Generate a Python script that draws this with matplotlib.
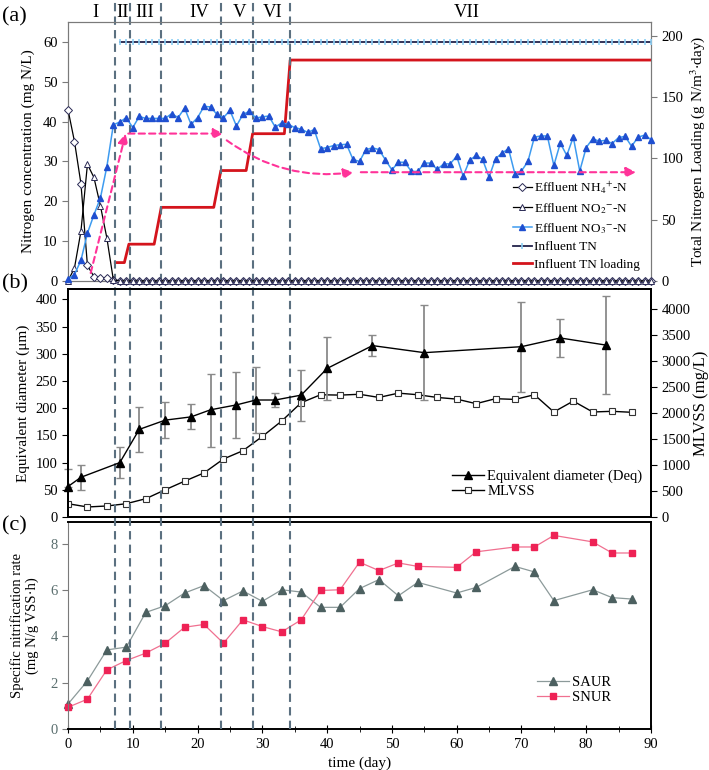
import numpy as np
import matplotlib
matplotlib.use("Agg")
import matplotlib.pyplot as plt
from matplotlib.lines import Line2D

plt.rcParams['font.family'] = ['Liberation Serif', 'DejaVu Serif']
plt.rcParams['mathtext.fontset'] = 'stix'

# ---------------- data ----------------
day_a = list(range(91))
nh4 = [43, 35, 24.4, 3.9, 1.1, 0.7, 0.7, 0.3] + [0] * 83
no2 = [0, 3.3, 12.5, 29.3, 26.0, 18.9, 10.8, 0.3] + [0] * 83
no3 = [0.5, 1.6, 5.2, 12.0, 16.6, 20.8, 28.7, 39.2, 39.9, 41.0,
       38.5, 41.3, 40.8, 40.8, 40.8, 40.8, 42.0, 41.0, 43.4, 39.3,
       41.0, 43.8, 43.7, 41.8, 41.0, 42.8, 38.9, 41.8, 42.6, 40.9,
       41.2, 41.4, 38.6, 39.7, 39.3, 38.5, 38.1, 37.3, 38.0, 33.2,
       33.5, 34.0, 34.2, 34.3, 30.5, 30.0, 33.0, 33.4, 33.0, 30.4,
       27.9, 29.8, 29.8, 27.5, 27.5, 29.6, 29.6, 28.0, 29.4, 29.4,
       31.3, 26.3, 30.3, 31.5, 30.5, 26.1, 30.7, 32.1, 33.2, 26.8,
       27.6, 30.0, 36.1, 36.4, 36.4, 29.0, 34.6, 31.5, 36.1, 27.6,
       33.5, 35.7, 35.1, 35.3, 34.5, 36.0, 36.3, 33.8, 36.1, 36.6,
       35.5]
influent_tn = [np.nan] * 8 + [60] * 83

load_day = [7.3, 8.7, 9.4, 13.3, 14.4, 22.5, 23.6, 27.5, 28.5, 33.4, 34.3, 90]
tn_loading = [15, 15, 30, 30, 60, 60, 90, 90, 120, 120, 180, 180]

phase_bounds = [7.2, 9.5, 14.4, 23.6, 28.6, 34.3]
phase_names = ['I', 'II', 'III', 'IV', 'V', 'VI', 'VII']
phase_pos = [4.2, 8.5, 11.8, 20.3, 26.5, 31.6, 61.6]

deq_day = [0, 2, 8, 11, 15, 19, 22, 26, 29, 32, 36, 40, 47, 55, 70, 76, 83]
deq = [56, 73, 100, 161, 178, 184, 197, 206, 215, 215, 224, 273, 315, 302, 313, 329, 316]
deq_err_low = [0, 23, 28, 42, 33, 23, 69, 60, 60, 13, 47, 58, 20, 87, 83, 35, 90]
deq_err_high = [33, 23, 28, 42, 33, 23, 66, 60, 60, 13, 47, 58, 20, 87, 83, 35, 90]

mlvss_day = [0, 3, 6, 9, 12, 15, 18, 21, 24, 27, 30, 33, 36, 39, 42, 45, 48, 51,
             54, 57, 60, 63, 66, 69, 72, 75, 78, 81, 84, 87]
mlvss = [256, 193, 212, 256, 352, 524, 690, 849, 1117, 1276, 1551, 1849, 2201,
         2354, 2347, 2363, 2302, 2385, 2354, 2302, 2270, 2182, 2278, 2264, 2354,
         2022, 2232, 2022, 2035, 2016]

rate_day = [0, 3, 6, 9, 12, 15, 18, 21, 24, 27, 30, 33, 36, 39, 42, 45, 48, 51,
            54, 60, 63, 69, 72, 75, 81, 84, 87]
saur = [1.08, 2.08, 3.42, 3.54, 5.04, 5.33, 5.88, 6.2, 5.55, 5.97, 5.52, 6.02,
        5.92, 5.26, 5.26, 6.07, 6.46, 5.76, 6.34, 5.88, 6.12, 7.03, 6.79, 5.55,
        6.02, 5.68, 5.62]
snur = [0.94, 1.29, 2.56, 2.96, 3.28, 3.71, 4.4, 4.52, 3.71, 4.72, 4.43, 4.2,
        4.72, 5.99, 6.02, 7.21, 6.85, 7.18, 7.03, 6.99, 7.66, 7.87, 7.87, 8.37,
        8.09, 7.61, 7.61]

# ---------------- figure ----------------
W, H = 709, 770
fig = plt.figure(figsize=(W / 100, H / 100), dpi=100)

def box(l, t, r, b):
    return [l / W, 1 - b / H, (r - l) / W, (b - t) / H]

ax_a = fig.add_axes(box(68, 22, 651, 281))
ax_b = fig.add_axes(box(68, 289, 651, 517))
ax_c = fig.add_axes(box(68, 522, 651, 729))

FS = 10.5
grey = '#7a7a7a'
dash_col = '#5b7080'
pink = '#ff3399'

# ---- panel (a)
ax_a2 = ax_a.twinx()
ax_a.set_zorder(ax_a2.get_zorder() + 1)
ax_a.patch.set_visible(False)

ax_a.plot(day_a, nh4, color='black', lw=0.9, marker='D', ms=3.6,
          mfc='white', mec='#2a2a55', mew=0.7, label=r'Effluent NH$_4$$^{+}$-N', clip_on=False, zorder=4)
ax_a.plot(day_a, no2, color='black', lw=0.9, marker='^', ms=4,
          mfc='white', mec='#2a2a55', mew=0.7, label=r'Effluent NO$_2$$^{-}$-N', clip_on=False, zorder=4)
ax_a.plot(day_a, no3, color='#3d9bf0', lw=1.1, marker='^', ms=5,
          mfc='#1f4fd0', mec='#1f4fd0', label=r'Effluent NO$_3$$^{-}$-N', clip_on=False, zorder=5)
ax_a.plot(day_a, influent_tn, color='#22224a', lw=1.3, marker='|', ms=5,
          mec='#8ccff5', mew=1.2, label='Influent TN', zorder=3)
ax_a2.plot(load_day, tn_loading, color='#d4141c', lw=2.0, label='Influent TN loading')

ax_a.set_xlim(0, 90)
ax_a.set_ylim(0, 65)
ax_a2.set_ylim(0, 211)
ax_a.set_yticks(range(0, 61, 10))
ax_a2.set_yticks(range(0, 201, 50))
ax_a.set_xticks([])
for a in (ax_a, ax_a2):
    for s in a.spines.values():
        s.set_color(grey)
    a.tick_params(labelsize=FS, color=grey, length=4, width=0.8)
ax_a.set_ylabel('Nitrogen concentration (mg N/L)', fontsize=FS + 0.5, labelpad=6)
ax_a2.set_ylabel('Total Nitrogen Loading (g N/m$^3$$\\cdot$day)', fontsize=FS + 0.5, labelpad=3)

# pink dashed arrows
akw = dict(arrowstyle='-|>,head_length=0.6,head_width=0.3', color=pink, lw=1.5,
           linestyle=(0, (3, 2)), shrinkA=0, shrinkB=0)
ax_a.annotate('', xy=(8.9, 37.0), xytext=(3.5, 2.0), arrowprops=akw, zorder=6)
ax_a.annotate('', xy=(24.0, 37.0), xytext=(9.3, 37.0), arrowprops=akw, zorder=6)
ax_a.annotate('', xy=(44.1, 27.3), xytext=(24.5, 35.3),
              arrowprops=dict(akw, connectionstyle='arc3,rad=0.2'), zorder=6)
ax_a.annotate('', xy=(87.7, 27.3), xytext=(45.2, 27.3), arrowprops=akw, zorder=6)

h1, l1 = ax_a.get_legend_handles_labels()
h2, l2 = ax_a2.get_legend_handles_labels()
leg = ax_a.legend(h1 + h2, l1 + l2, loc='center left', bbox_to_anchor=(506 / W, 1 - 225 / H),
                  bbox_transform=fig.transFigure, frameon=False, fontsize=9.5,
                  handlelength=1.5, handletextpad=0.1, labelspacing=0.4, borderpad=0)

for name, pos in zip(phase_names, phase_pos):
    ax_a.text(pos, 1.0 + 9 / 259, name, transform=ax_a.get_xaxis_transform(),
              ha='center', va='center', fontsize=13.5)

# ---- panel (b)
ax_b2 = ax_b.twinx()
ax_b.set_zorder(ax_b2.get_zorder() + 1)
ax_b.patch.set_visible(False)
ax_b.errorbar(deq_day, deq, yerr=[deq_err_low, deq_err_high], fmt='none',
              ecolor='#8a8a8a', elinewidth=1.3, capsize=3, capthick=1.0, clip_on=False)
ax_b.plot(deq_day, deq, '-^', color='black', ms=6, lw=1.0,
          label='Equivalent diameter (Deq)', clip_on=False)
ax_b2.plot(mlvss_day, mlvss, '-s', color='black', lw=1.0, ms=5, mfc='white',
           mec='#333333', mew=0.8, label='MLVSS')
ax_b.set_xlim(0, 90)
ax_b.set_ylim(0, 419)
ax_b2.set_ylim(0, 4390)
ax_b.set_yticks(range(0, 401, 50))
ax_b2.set_yticks(range(0, 4001, 500))
ax_b.set_xticks([])
for a in (ax_b, ax_b2):
    for s in a.spines.values():
        s.set_linewidth(1.4)
    a.tick_params(labelsize=FS, length=4)
ax_b.set_ylabel('Equivalent diameter (μm)', fontsize=FS + 0.5, labelpad=4)
ax_b2.set_ylabel('MLVSS (mg/L)', fontsize=FS + 1.5, labelpad=2)
hb1, lb1 = ax_b.get_legend_handles_labels()
hb2, lb2 = ax_b2.get_legend_handles_labels()
ax_b.legend(hb1 + hb2, lb1 + lb2, loc='center left', bbox_to_anchor=(445 / W, 1 - 484 / H),
            bbox_transform=fig.transFigure, frameon=False, fontsize=10.5,
            handlelength=2.2, handletextpad=0.2, labelspacing=0.15, borderpad=0)

# ---- panel (c)
ax_c.plot(rate_day, saur, '-^', color='#8c9a9a', lw=0.9, ms=6, mfc='#4c6060',
          mec='#4c6060', label='SAUR', clip_on=False)
ax_c.plot(rate_day, snur, '-s', color='#f07090', lw=0.9, ms=5, mfc='#ee2255',
          mec='#ee2255', label='SNUR', clip_on=False)
ax_c.set_xlim(0, 90)
ax_c.set_ylim(0, 8.95)
ax_c.set_xticks(range(0, 91, 10))
ax_c.set_xticks(range(5, 90, 10), minor=True)
ax_c.set_yticks(range(0, 9, 2))
ax_c.tick_params(axis='x', labelsize=FS, direction='inout', length=6)
ax_c.tick_params(axis='x', which='minor', direction='inout', length=5)
ax_c.tick_params(axis='y', labelsize=FS, labelcolor='#5a6e6e', color=grey, length=4)
ax_c.spines['left'].set_color(grey)
ax_c.spines['right'].set_linewidth(1.4)
ax_c.spines['top'].set_linewidth(1.4)
ax_c.spines['bottom'].set_linewidth(1.4)
ax_c.set_xlabel('time (day)', fontsize=FS + 0.5, labelpad=4)
ax_c.set_ylabel('Specific nitrification rate\n(mg N/g VSS·h)', fontsize=FS, labelpad=8)
ax_c.legend(loc='center left', bbox_to_anchor=(530 / W, 1 - 690 / H),
            bbox_transform=fig.transFigure, frameon=False, fontsize=10.5,
            handlelength=2.2, handletextpad=0.2, labelspacing=0.15, borderpad=0)

# panel labels
for lab, yy in (('(a)', 17), ('(b)', 284), ('(c)', 526)):
    fig.text(2 / W, 1 - yy / H, lab, fontsize=16, ha='left', va='center')

# ---- phase boundary dashed lines across all panels
fig.canvas.draw()
for d in phase_bounds:
    xf = fig.transFigure.inverted().transform(ax_c.transData.transform((d, 0)))[0]
    fig.add_artist(Line2D([xf, xf], [1 - 729 / H, 1.0], transform=fig.transFigure,
                          color=dash_col, lw=1.5, linestyle=(0, (4, 2.5)), zorder=0.5))

fig.savefig('out.png', dpi=100)
